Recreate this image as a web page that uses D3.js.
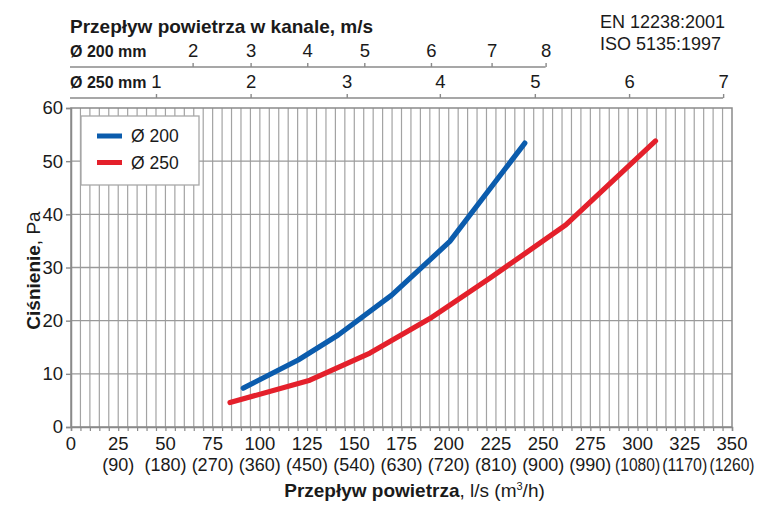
<!DOCTYPE html>
<html><head><meta charset="utf-8">
<script src="https://cdn.jsdelivr.net/npm/d3@7/dist/d3.min.js"></script>
<style>body{margin:0;background:#fff}svg{display:block;font-family:"Liberation Sans",Arial,Helvetica,sans-serif}</style>
</head><body><svg id="c" width="761" height="506"></svg>
<script>
// ---- data ----
const flowTicks = [0,25,50,75,100,125,150,175,200,225,250,275,300,325,350];
const m3hLabels = ["","(90)","(180)","(270)","(360)","(450)","(540)","(630)","(720)","(810)","(900)","(990)","(1080)","(1170)","(1260)"];
const pressureTicks = [0,10,20,30,40,50,60];
const v200Ticks = [2,3,4,5,6,7,8];
const v200Flow = [64.4,95.1,125.1,155.3,190.6,222.7,251.3];
const v250Ticks = [1,2,3,4,5,6,7];
const v250Flow = [45,95.1,146,195.3,245.6,295.5,345.3];
const d200Flow = [91.2,120.3,141.5,169.8,200.6,240.3];
const d200Pa = [7.3,12.6,17.3,24.8,34.9,53.4];
const d250Flow = [84.2,126.5,158.3,190,221.8,262,309.5];
const d250Pa = [4.6,8.8,13.9,20.4,28,38,53.8];
const seriesNames = ["Ø 200","Ø 250"];
const seriesColors = ["#0b5cad","#e4202b"];
const topTitle = "Przepływ powietrza w kanale, m/s";
const stdLines = ["EN 12238:2001","ISO 5135:1997"];

// ---- layout ----
const svg = d3.select("#c");
const L = 71, R = 732, T = 108, B = 427;
const x = d3.scaleLinear().domain([0,350]).range([L,R]);
const y = d3.scaleLinear().domain([0,60]).range([B,T]);
const txt = "#1a1a1a";

// grid
const g = svg.append("g");
g.selectAll("line.v").data(d3.range(5,350,5)).join("line")
  .attr("x1",d=>x(d)).attr("x2",d=>x(d)).attr("y1",T).attr("y2",B)
  .attr("stroke","#a3a3a3").attr("stroke-width",1.2);
g.selectAll("line.h").data(d3.range(10,60,10)).join("line")
  .attr("x1",L).attr("x2",R).attr("y1",d=>y(d)).attr("y2",d=>y(d))
  .attr("stroke","#9a9a9a").attr("stroke-width",1.4);
g.append("rect").attr("x",L).attr("y",T).attr("width",R-L).attr("height",B-T)
  .attr("fill","none").attr("stroke","#8a8a8a").attr("stroke-width",1.5);

// bottom axis
const xa = svg.append("g").attr("transform",`translate(0,${B})`)
  .call(d3.axisBottom(x).tickValues(d3.range(0,351,5)).tickSize(4).tickFormat(""));
xa.select(".domain").attr("stroke","#8a8a8a").attr("stroke-width",1.5);
xa.selectAll(".tick line").attr("stroke","#8a8a8a").attr("stroke-width",1.2);
svg.append("g").selectAll("text").data(flowTicks).join("text")
  .attr("x",d=>x(d)).attr("y",449.5).attr("text-anchor","middle").attr("fill",txt)
  .style("font-size","18.5px").text(d=>d);
svg.append("g").selectAll("text").data(flowTicks.slice(1)).join("text")
  .attr("x",d=>x(d)).attr("y",471).attr("text-anchor","middle").attr("fill",txt)
  .style("font-size","18px").text((d,i)=>m3hLabels[i+1])
  .each(function(){ const w=this.getComputedTextLength(); if(w>45){ d3.select(this).attr("textLength",45).attr("lengthAdjust","spacingAndGlyphs"); } });

// left axis
const ya = svg.append("g").attr("transform",`translate(${L},0)`)
  .call(d3.axisLeft(y).tickValues(pressureTicks).tickSize(5).tickPadding(3));
ya.select(".domain").attr("stroke","#8a8a8a").attr("stroke-width",1.5);
ya.selectAll(".tick line").attr("stroke","#8a8a8a").attr("stroke-width",1.4);
ya.selectAll(".tick text").attr("fill",txt).style("font-size","18.5px").style("font-family","inherit");

// axis titles
const xt = svg.append("text").attr("x",(L+R)/2+13).attr("y",497).attr("text-anchor","middle")
  .attr("fill",txt).style("font-size","19px");
xt.append("tspan").attr("font-weight","bold").text("Przepływ powietrza");
xt.append("tspan").text(", l/s (m");
xt.append("tspan").attr("font-size","11px").attr("dy",-7).text("3");
xt.append("tspan").attr("dy",7).text("/h)");
const yt = svg.append("text").attr("transform",`translate(40,${(T+B)/2+3}) rotate(-90)`)
  .attr("text-anchor","middle").attr("fill",txt).style("font-size","19px");
yt.append("tspan").attr("font-weight","bold").text("Ciśnienie");
yt.append("tspan").text(", Pa");

// top velocity axes
function topAxis(ticks, flows, lineY, label){
  const s = d3.scaleLinear().domain(ticks).range(flows.map(x));
  const ag = svg.append("g").attr("transform",`translate(0,${lineY})`)
    .call(d3.axisTop(s).tickValues(ticks).tickSize(4).tickPadding(6).tickFormat(d3.format("d")));
  ag.select(".domain").remove();
  ag.selectAll(".tick line").attr("stroke","#8a8a8a").attr("stroke-width",1.4);
  ag.selectAll(".tick text").attr("fill",txt).style("font-size","18.5px").style("font-family","inherit");
  svg.append("line").attr("x1",x(0)-1).attr("x2",x(flows[flows.length-1])).attr("y1",lineY).attr("y2",lineY)
    .attr("stroke","#8a8a8a").attr("stroke-width",1.5);
  svg.append("text").attr("x",x(0)-1).attr("y",lineY-10).attr("fill",txt)
    .attr("font-weight","bold").style("font-size","16px").text(label);
}
topAxis(v200Ticks, v200Flow, 67, "Ø 200 mm");
topAxis(v250Ticks, v250Flow, 98, "Ø 250 mm");
svg.append("text").attr("x",x(0)-1).attr("y",33).attr("fill",txt).attr("font-weight","bold")
  .style("font-size","19px").text(topTitle);
svg.selectAll("text.std").data(stdLines).join("text").attr("class","std")
  .attr("x",600).attr("y",(d,i)=>28+i*22).attr("fill",txt).style("font-size","18px").text(d=>d);

// series
const series = [
  {name:seriesNames[0], color:seriesColors[0], pts:d200Flow.map((f,i)=>[f,d200Pa[i]])},
  {name:seriesNames[1], color:seriesColors[1], pts:d250Flow.map((f,i)=>[f,d250Pa[i]])}
];
const line = d3.line().x(d=>x(d[0])).y(d=>y(d[1]));
svg.append("g").selectAll("path").data(series).join("path")
  .attr("d",d=>line(d.pts)).attr("fill","none").attr("stroke",d=>d.color)
  .attr("stroke-width",5.2).attr("stroke-linejoin","round").attr("stroke-linecap","round");

// legend
const lg = svg.append("g");
lg.append("rect").attr("x",81).attr("y",116).attr("width",118).attr("height",69)
  .attr("fill","#fff").attr("stroke","#a8a8a8").attr("stroke-width",1.3);
const li = lg.selectAll("g.it").data(series).join("g").attr("transform",(d,i)=>`translate(0,${136+i*26.5})`);
li.append("line").attr("x1",97).attr("x2",122).attr("stroke",d=>d.color).attr("stroke-width",5);
li.append("text").attr("x",131).attr("y",6).attr("fill",txt).style("font-size","17.5px").text(d=>d.name);
</script></body></html>
